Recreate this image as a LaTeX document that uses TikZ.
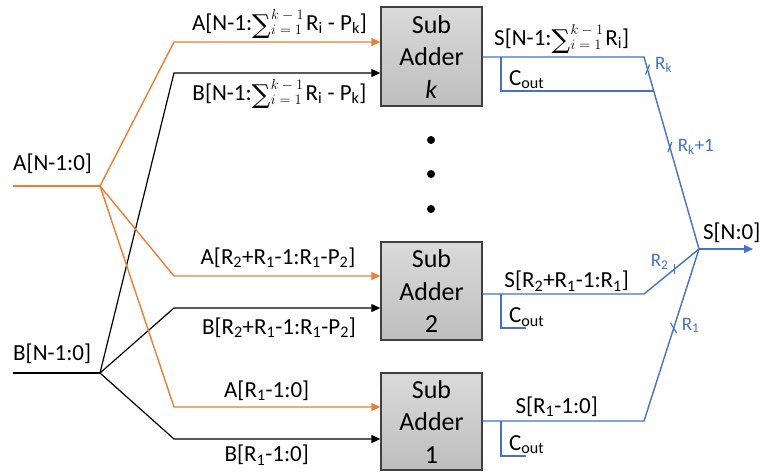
\documentclass[tikz,border=0pt]{standalone}
\usepackage{fontspec}
\setmainfont{Carlito}
\newfontfamily\opfont{DejaVu Serif}
\usetikzlibrary{arrows.meta,calc}
\definecolor{sigorange}{HTML}{ED7D31}
\definecolor{sumblue}{HTML}{4472C4}
\definecolor{boxedge}{HTML}{404040}
\definecolor{boxtop}{HTML}{DADADA}
\definecolor{boxbot}{HTML}{BEBEBE}
% compact sum of the R_i with tight limits
\newcommand{\sumlim}[1]{{\fontsize{15}{15}\selectfont$#1$}}
\newcommand{\sumglyph}{\raisebox{-3pt}{\opfont\fontsize{26}{26}\selectfont ∑}}
\newcommand{\sumR}{\sumglyph\kern0.5pt\rlap{\raisebox{10.5pt}{\sumlim{k-1}}}\raisebox{-4pt}{\sumlim{i=1}}\kern4pt$\mathrm{R}_{\mathrm{i}}$}
\begin{document}
\begin{tikzpicture}[x=1pt,y=-1pt,
  adder/.style={rectangle, draw=boxedge, line width=1.4pt, top color=boxtop,
    bottom color=boxbot, minimum width=101pt, minimum height=99pt, inner sep=0pt,
    align=center, font=\fontsize{26}{32.5}\selectfont},
  abus/.style={draw=sigorange, line width=1.4pt},
  bbus/.style={draw=black, line width=1.2pt},
  sbus/.style={draw=sumblue, line width=1.4pt},
  feed/.style={-{Triangle[length=9pt,width=8pt]}},
  lbl/.style={inner sep=0pt, anchor=base, font=\fontsize{23}{27}\selectfont},
  lblw/.style={inner sep=0pt, anchor=base west, font=\fontsize{23}{27}\selectfont},
  wlbl/.style={inner sep=0pt, anchor=base west, text=sumblue, font=\fontsize{19}{23}\selectfont},
  tickmark/.style={draw=sumblue, line width=1.2pt},
]
\useasboundingbox (0,0) rectangle (762,472);

% sub adders
\node[adder] (addk) at (431.5,56.5) {Sub\\Adder\\\textit{k}};
\node[adder, minimum height=98pt] (add2) at (431.5,291) {Sub\\Adder\\2};
\node[adder, minimum height=97pt] (add1) at (431.5,421.5) {Sub\\Adder\\1};

% continuation dots
\fill (431,140) circle (4);
\fill (431,174) circle (4);
\fill (431,209) circle (4);

% input buses and their split points
\coordinate (ain) at (13,186);
\coordinate (asplit) at (100,186);
\coordinate (bin) at (13,373);
\coordinate (bsplit) at (100,373);
\coordinate (ak) at (174,42);
\coordinate (bk) at (174,73);
\coordinate (a2) at (174,276);
\coordinate (b2) at (174,308);
\coordinate (a1) at (174,407);
\coordinate (b1) at (174,439);

\draw[bbus] (bin) -- (bsplit);
\draw[bbus,feed] (bsplit) -- (bk) -- (bk -| addk.west);
\draw[bbus,feed] (bsplit) -- (b2) -- (b2 -| add2.west);
\draw[bbus,feed] (bsplit) -- (b1) -- (b1 -| add1.west);
\draw[abus] (ain) -- (asplit);
\draw[abus,feed] (asplit) -- (ak) -- (ak -| addk.west);
\draw[abus,feed] (asplit) -- (a2) -- (a2 -| add2.west);
\draw[abus,feed] (asplit) -- (a1) -- (a1 -| add1.west);

% input labels
\node[lblw] (lain) at (13,170) {A[N-1:0]};
\node[lblw] (lbin) at (13,360.7) {B[N-1:0]};
\node[lbl] (lak) at (279.5,30) {A[N-1:\sumR{} - P\textsubscript{k}]};
\node[lbl] (lbk) at (279.5,100) {B[N-1:\sumR{} - P\textsubscript{k}]};
\node[lbl] (la2) at (278,264) {A[R\textsubscript{2}+R\textsubscript{1}-1:R\textsubscript{1}-P\textsubscript{2}]};
\node[lbl] (lb2) at (279,334) {B[R\textsubscript{2}+R\textsubscript{1}-1:R\textsubscript{1}-P\textsubscript{2}]};
\node[lbl] (la1) at (266.7,397) {A[R\textsubscript{1}-1:0]};
\node[lbl] (lb1) at (266.8,461.7) {B[R\textsubscript{1}-1:0]};

% sum outputs merging into S[N:0]
\coordinate (sum) at (699,249);
\coordinate (sout) at (753,249);
\coordinate (skbend) at (644,57);
\coordinate (s2bend) at (644,294);
\coordinate (s1bend) at (644,421);
\coordinate (ck) at (501,57);
\coordinate (ckjoin) at ($(skbend)!0.177!(sum)$);
\coordinate (c2) at (501,294);
\coordinate (c2end) at (526,328);
\coordinate (c1) at (501,421);
\coordinate (c1end) at (526,456);

\draw[sbus] (addk.east |- skbend) -- (skbend) -- (sum);
\draw[sbus] (ck) |- (ckjoin);
\draw[sbus] (add2.east |- s2bend) -- (s2bend) -- (sum);
\draw[sbus] (c2) |- (c2end);
\draw[sbus] (add1.east |- s1bend) -- (s1bend) -- (sum);
\draw[sbus] (c1) |- (c1end);
\draw[sbus,-{Triangle[length=9pt,width=8pt]}] (sum) -- (sout);

% bus width ticks
\coordinate (tk) at ($(skbend)!0.065!(sum)$);
\coordinate (tk1) at ($(skbend)!0.47!(sum)$);
\coordinate (t2) at ($(s2bend)!0.55!(sum)$);
\coordinate (t1) at ($(s1bend)!0.54!(sum)$);
\draw[tickmark] ($(tk)+(-2,5)$) -- ($(tk)+(2,-5)$);
\draw[tickmark] ($(tk1)+(-2,5)$) -- ($(tk1)+(2,-5)$);
\draw[tickmark] ($(t2)+(0,5)$) -- ($(t2)+(0,-5)$);
\draw[tickmark] ($(t1)+(-3,-5)$) -- ($(t1)+(3,5)$);

% output labels
\node[lbl] (lsk) at (561.7,45) {S[N-1:\sumR]};
\node[lblw] (lck) at (509,85) {C\textsubscript{out}};
\node[lbl] (ls2) at (566.7,287.3) {S[R\textsubscript{2}+R\textsubscript{1}-1:R\textsubscript{1}]};
\node[lblw] (lc2) at (509,322.7) {C\textsubscript{out}};
\node[lbl] (ls1) at (556.7,413) {S[R\textsubscript{1}-1:0]};
\node[lblw] (lc1) at (509,450) {C\textsubscript{out}};
\node[lbl] (lsum) at (731.7,239.3) {S[N:0]};
\node[wlbl] (wk) at (655,69) {R\textsubscript{k}};
\node[wlbl] (wk1) at (677.7,151.7) {R\textsubscript{k}+1};
\node[wlbl] (w2) at (650.7,266.7) {R\textsubscript{2}};
\node[wlbl] (w1) at (681.7,330) {R\textsubscript{1}};
\end{tikzpicture}
\end{document}
